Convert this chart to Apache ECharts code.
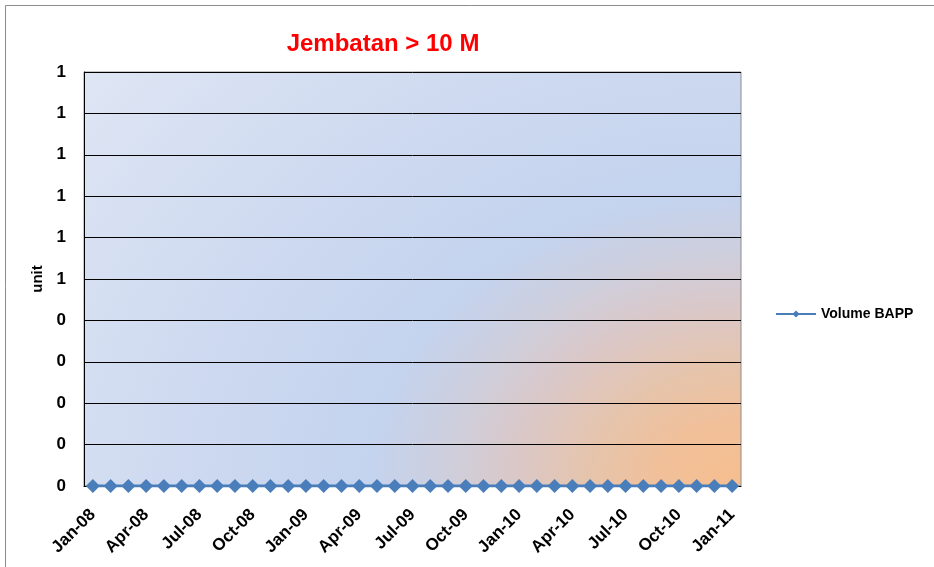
<!DOCTYPE html>
<html>
<head>
<meta charset="utf-8">
<script src="https://cdn.jsdelivr.net/npm/echarts@6/dist/echarts.min.js"></script>
<style>
html,body{margin:0;padding:0;background:#fff;}
#chart{width:934px;height:567px;}
</style>
</head>
<body>
<div id="chart"></div>
<script>
const categories = [
  'Jan-08','Feb-08','Mar-08','Apr-08','May-08','Jun-08','Jul-08','Aug-08','Sep-08','Oct-08','Nov-08','Dec-08',
  'Jan-09','Feb-09','Mar-09','Apr-09','May-09','Jun-09','Jul-09','Aug-09','Sep-09','Oct-09','Nov-09','Dec-09',
  'Jan-10','Feb-10','Mar-10','Apr-10','May-10','Jun-10','Jul-10','Aug-10','Sep-10','Oct-10','Nov-10','Dec-10',
  'Jan-11'
];
const volumeBAPP = [
  0,0,0,0,0,0,0,0,0,0,0,0,
  0,0,0,0,0,0,0,0,0,0,0,0,
  0,0,0,0,0,0,0,0,0,0,0,0,
  0
];
const seriesName = 'Volume BAPP';
const titleText = 'Jembatan > 10 M';
const yAxisName = 'unit';

const chart = echarts.init(document.getElementById('chart'));
const font = 'Liberation Sans, Arial, sans-serif';

// plot-area layout (pixels)
const G = {left: 84, right: 193, top: 72, bottom: 81};
const plotW = 934 - G.left - G.right;   // 657
const plotH = 567 - G.top - G.bottom;   // 414
const ellY = 0.784;                     // vertical squash of the background ellipse
const localH = plotH / ellY;

chart.setOption({
  animation: false,
  backgroundColor: '#fff',
  graphic: [{
    type: 'rect',
    x: G.left, y: G.top,
    scaleY: ellY,
    shape: {x: 0, y: 0, width: plotW, height: localH},
    style: {
      fill: {
        type: 'radial', x: 1, y: 1, r: 1.6,
        colorStops: [
          {offset: 0, color: '#f6be8e'},
          {offset: 0.1, color: '#f1c09a'},
          {offset: 0.178, color: '#e6c4ab'},
          {offset: 0.273, color: '#dac8c9'},
          {offset: 0.356, color: '#cdcfde'},
          {offset: 0.44, color: '#c4d3ee'},
          {offset: 0.65, color: '#cdd9f0'},
          {offset: 1, color: '#dfe6f4'}
        ]
      }
    },
    z: -10,
    silent: true
  }, {
    type: 'rect',
    shape: {x: 5.5, y: 5.5, width: 960, height: 600},
    style: {fill: 'none', stroke: '#8c8c8c', lineWidth: 1},
    z: 100,
    silent: true
  }],
  title: {
    text: titleText,
    left: 378, top: 27,
    textAlign: 'center',
    textStyle: {color: '#ff0000', fontSize: 24, fontWeight: 'bold', fontFamily: font}
  },
  legend: {
    data: [seriesName],
    left: 770, top: 302,
    itemWidth: 40, itemHeight: 9,
    textStyle: {fontSize: 14, fontWeight: 'bold', color: '#000', fontFamily: font}
  },
  grid: {
    left: G.left, right: G.right, top: G.top, bottom: G.bottom,
    show: true,
    borderColor: '#8c8c8c', borderWidth: 1,
    backgroundColor: 'transparent'
  },
  xAxis: {
    type: 'category',
    data: categories,
    boundaryGap: true,
    axisLine: {show: true, lineStyle: {color: '#000', width: 1}},
    axisTick: {show: false},
    axisLabel: {
      interval: 2, rotate: 45, margin: 26,
      fontSize: 17, fontWeight: 'bold', color: '#000', fontFamily: font
    },
    splitLine: {show: false}
  },
  yAxis: {
    type: 'value',
    min: 0, max: 1, interval: 0.1,
    name: yAxisName,
    nameLocation: 'middle',
    nameGap: 34,
    nameRotate: 90,
    nameTextStyle: {fontSize: 15, fontWeight: 'bold', color: '#000', fontFamily: font},
    axisLine: {show: true, lineStyle: {color: '#000', width: 1}},
    axisTick: {show: false},
    axisLabel: {
      margin: 18,
      fontSize: 17, fontWeight: 'bold', color: '#000', fontFamily: font,
      formatter: v => String(Math.round(v))
    },
    splitLine: {show: true, lineStyle: {color: '#000', width: 1}}
  },
  series: [{
    name: seriesName,
    type: 'line',
    data: volumeBAPP,
    symbol: 'diamond',
    symbolSize: 14,
    showAllSymbol: true,
    itemStyle: {color: '#4a7ebb'},
    lineStyle: {color: '#4a7ebb', width: 3},
    z: 5
  }]
});
</script>
</body>
</html>
